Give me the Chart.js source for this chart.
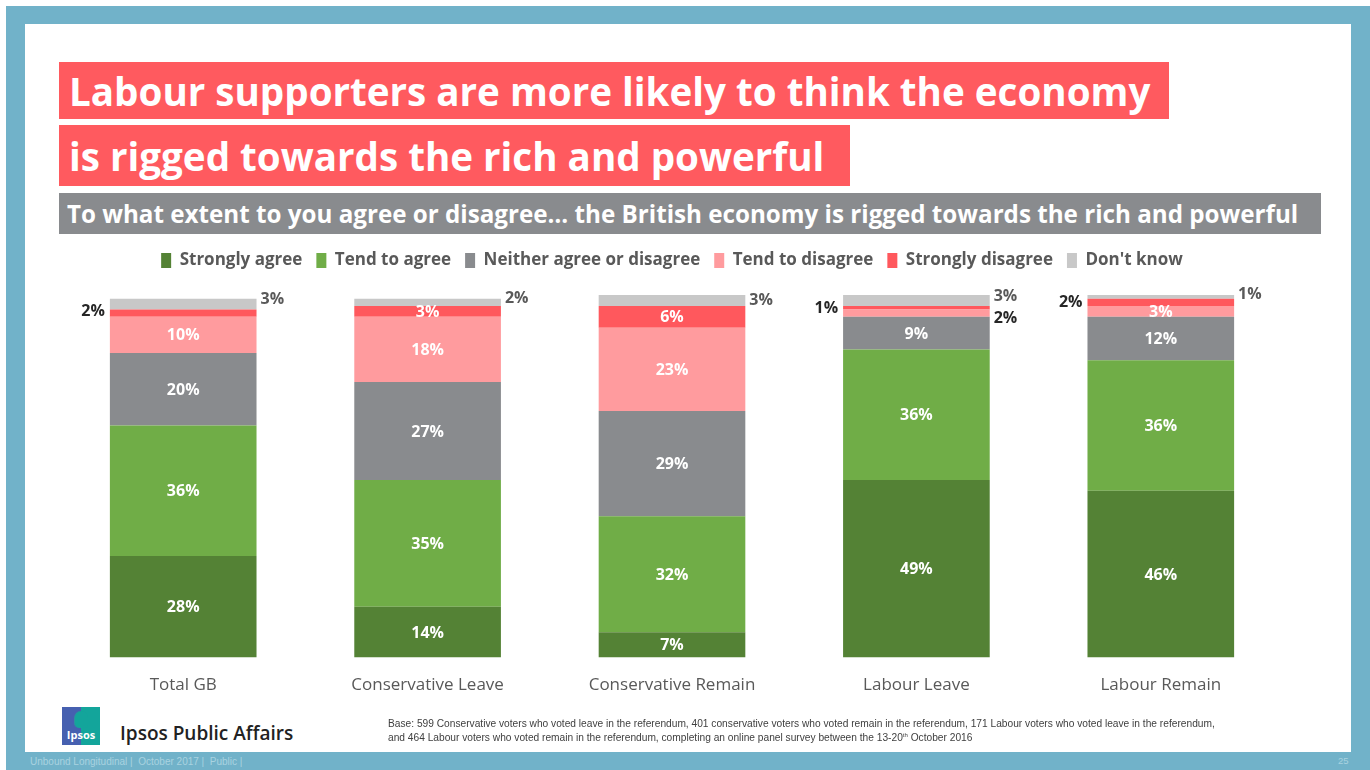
<!DOCTYPE html>
<html>
<head>
<meta charset="utf-8">
<script src="https://cdn.jsdelivr.net/npm/chart.js@4.4.1/dist/chart.umd.min.js"></script>
<style>
  html, body { margin: 0; padding: 0; background: #fff; }
  #page { position: relative; width: 1370px; height: 770px; overflow: hidden; font-family: "Open Sans", "Noto Sans", sans-serif; }
  #frame { position: absolute; left: 6px; top: 6px; width: 1364px; height: 764px; background: #71B2C9; }
  #sheet { position: absolute; left: 25px; top: 24px; width: 1326px; height: 728px; background: #fff; }
  .banner { position: absolute; left: 59px; background: #FF5A5F; color: #fff; font-weight: 700; white-space: nowrap; box-sizing: border-box; padding-left: 10px; }
  #t1 { top: 62px; width: 1110px; height: 57px; font-size: 38.6px; line-height: 59px; }
  #t2 { top: 125px; width: 791px; height: 61px; font-size: 38.6px; line-height: 63px; }
  #sub { position: absolute; left: 59px; top: 193px; width: 1262px; height: 41px; background: #898B8E; color: #fff; font-weight: 700; font-size: 24.2px; line-height: 41px; padding-left: 8px; box-sizing: border-box; white-space: nowrap; }
  #chartBox { position: absolute; left: 40px; top: 238px; width: 1270px; height: 481px; }
  #logo { position: absolute; left: 62px; top: 707px; width: 38px; height: 38px; background: linear-gradient(90deg, #4660B0 0 50%, #13A59B 50% 100%); overflow: hidden; }
  #logo .head { position: absolute; left: 12px; top: 4px; width: 13px; height: 17px; border-radius: 7px 7px 3px 5px; background: #13A59B; border-left: 1px solid #2f8fa0; }
  #logo .word { position: absolute; left: 0; bottom: 3px; width: 38px; text-align: center; color: #fff; font-size: 11px; font-weight: 700; }
  #brand { position: absolute; left: 120px; top: 720px; font-size: 19px; color: #222; font-weight: 600; }
  #base { position: absolute; left: 388px; top: 717px; font-size: 10.2px; line-height: 14px; color: #404040; font-family: "Liberation Sans", sans-serif; }
  #base sup { font-size: 6px; line-height: 0; vertical-align: 4px; }
  #foot { position: absolute; left: 30px; top: 756px; font-size: 10px; color: #A9D3E0; font-family: "Liberation Sans", sans-serif; }
  #pnum { position: absolute; left: 1338px; top: 755px; font-size: 9.5px; color: #A9D3E0; font-family: "Liberation Sans", sans-serif; }
</style>
</head>
<body>
<div id="page">
  <div id="frame"></div>
  <div id="sheet"></div>
  <div class="banner" id="t1">Labour supporters are more likely to think the economy</div>
  <div class="banner" id="t2">is rigged towards the rich and powerful</div>
  <div id="sub">To what extent to you agree or disagree… the British economy is rigged towards the rich and powerful</div>
  <div id="chartBox"><canvas id="c"></canvas></div>
  <div id="logo"><div class="head"></div><div class="word">Ipsos</div></div>
  <div id="brand">Ipsos Public Affairs</div>
  <div id="base">Base: 599 Conservative voters who voted leave in the referendum, 401 conservative voters who voted remain in the referendum, 171 Labour voters who voted leave in the referendum,<br>and 464 Labour voters who voted remain in the referendum, completing an online panel survey between the 13-20<sup>th</sup> October 2016</div>
  <div id="foot">Unbound Longitudinal |&nbsp; October 2017 |&nbsp; Public |</div>
  <div id="pnum">25</div>
</div>
<script>
// Survey groups and answer shares (%)
const categories = ['Total GB', 'Conservative Leave', 'Conservative Remain', 'Labour Leave', 'Labour Remain'];
const stronglyAgree    = [28, 14, 7, 49, 46];
const tendToAgree      = [36, 35, 32, 36, 36];
const neitherAgree     = [20, 27, 29, 9, 12];
const tendToDisagree   = [10, 18, 23, 2, 3];
const stronglyDisagree = [2, 3, 6, 1, 2];
const dontKnow         = [3, 2, 3, 3, 1];

const seriesNames  = ['Strongly agree', 'Tend to agree', 'Neither agree or disagree', 'Tend to disagree', 'Strongly disagree', "Don't know"];
const seriesValues = [stronglyAgree, tendToAgree, neitherAgree, tendToDisagree, stronglyDisagree, dontKnow];
const seriesColors = ['#548235', '#70AD47', '#898B8E', '#FF9B9E', '#FF585D', '#C8C8C8'];

// Thin segments get their label beside the bar: "dataset,category" -> side, vertical nudge, colour
const sideLabels = {
  '4,0': { side: 'left',  dy: -2, color: '#262626' },
  '5,0': { side: 'right', dy: -5, color: '#595959' },
  '5,1': { side: 'right', dy: -4, color: '#595959' },
  '5,2': { side: 'right', dy: 0,  color: '#595959' },
  '4,3': { side: 'left',  dy: 1,  color: '#262626' },
  '5,3': { side: 'right', dy: -4, color: '#595959' },
  '3,3': { side: 'right', dy: 5,  color: '#262626' },
  '4,4': { side: 'left',  dy: 0,  color: '#262626' },
  '5,4': { side: 'right', dy: -2, color: '#595959' }
};

const valueLabels = {
  id: 'valueLabels',
  afterDatasetsDraw(chart) {
    const ctx = chart.ctx;
    ctx.save();
    ctx.font = '700 16px "Open Sans", sans-serif';
    ctx.textBaseline = 'middle';
    chart.data.datasets.forEach((ds, di) => {
      chart.getDatasetMeta(di).data.forEach((bar, ci) => {
        const v = ds.data[ci];
        const text = v + '%';
        const cy = (bar.y + bar.base) / 2;
        const half = bar.width / 2;
        const side = sideLabels[di + ',' + ci];
        if (side) {
          ctx.fillStyle = side.color;
          if (side.side === 'left') {
            ctx.textAlign = 'right';
            ctx.fillText(text, bar.x - half - 5, cy + side.dy);
          } else {
            ctx.textAlign = 'left';
            ctx.fillText(text, bar.x + half + 4, cy + side.dy);
          }
        } else {
          ctx.fillStyle = '#ffffff';
          ctx.textAlign = 'center';
          ctx.fillText(text, bar.x, cy + 1);
        }
      });
    });
    ctx.restore();
  }
};

// Extra room below the legend row
const legendGap = {
  id: 'legendGap',
  beforeInit(chart) {
    const fit = chart.legend.fit;
    chart.legend.fit = function () {
      fit.call(this);
      this.height += 16;
    };
  }
};

new Chart(document.getElementById('c'), {
  type: 'bar',
  data: {
    labels: categories,
    datasets: seriesNames.map((name, i) => ({
      label: name,
      data: seriesValues[i],
      backgroundColor: seriesColors[i],
      borderWidth: 0,
      barPercentage: 0.6,
      categoryPercentage: 1.0
    }))
  },
  options: {
    responsive: true,
    maintainAspectRatio: false,
    animation: false,
    layout: { padding: { left: 21, right: 27, top: 0, bottom: 7 } },
    plugins: {
      legend: {
        position: 'top',
        labels: {
          boxWidth: 10,
          boxHeight: 15,
          padding: 14,
          color: '#595959',
          font: { family: '"Open Sans", sans-serif', size: 17, weight: '700' }
        }
      },
      tooltip: { enabled: false }
    },
    scales: {
      x: {
        stacked: true,
        grid: { display: false, drawTicks: false },
        border: { display: false },
        ticks: { color: '#595959', padding: 17, font: { family: '"Open Sans", sans-serif', size: 17 } }
      },
      y: {
        stacked: true,
        display: false,
        min: 0,
        max: 100
      }
    }
  },
  plugins: [legendGap, valueLabels]
});
</script>
</body>
</html>
